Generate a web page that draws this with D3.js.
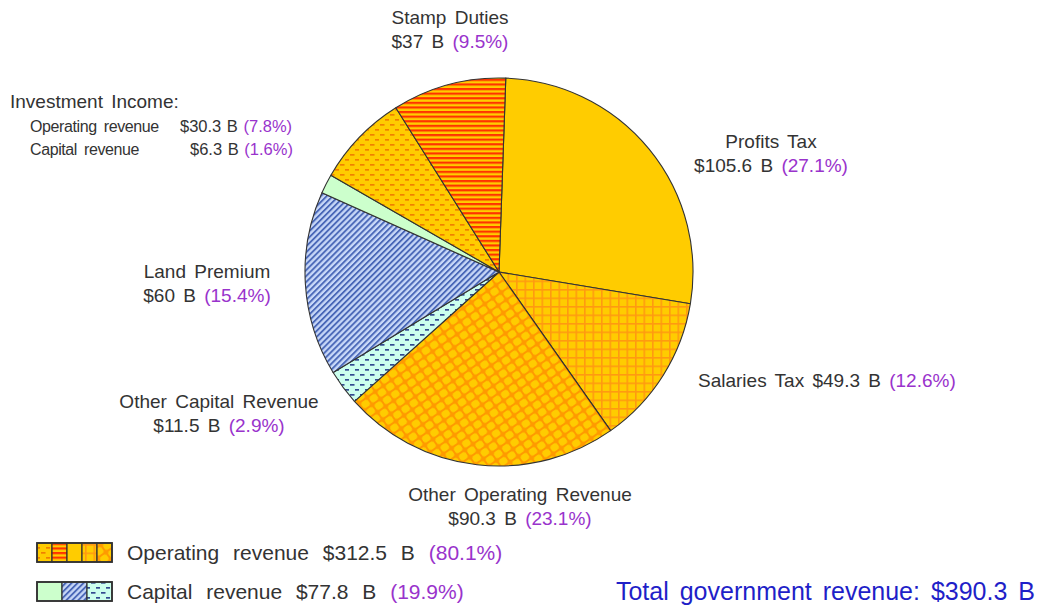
<!DOCTYPE html>
<html>
<head>
<meta charset="utf-8">
<script src="https://cdn.jsdelivr.net/npm/d3@7"></script>
<style>
  body { margin: 0; background: #fff; }
  svg { display: block; font-family: Arial, "Liberation Sans", sans-serif; }
  .lbl { fill: #333; font-size: 19px; word-spacing: 3px; }
  .pct { fill: #9933cc; }
</style>
</head>
<body>
<div id="chart"></div>
<script>
// data (clockwise from 12 o'clock)
const categories = ['Profits Tax', 'Salaries Tax', 'Other Operating Revenue', 'Other Capital Revenue',
  'Land Premium', 'Investment Income (capital)', 'Investment Income (operating)', 'Stamp Duties'];
const values = [105.6, 49.3, 90.3, 11.5, 60, 6.3, 30.3, 37];
const shares = [27.1, 12.6, 23.1, 2.9, 15.4, 1.6, 7.8, 9.5];
const groupTotals = [{ key: 'op', name: 'Operating revenue', value: 312.5, share: 80.1 },
  { key: 'cap', name: 'Capital revenue', value: 77.8, share: 19.9 }];
const totalRevenue = 390.3;

// fills per slice
const fills = ['solid-gold', 'grid', 'brick', 'dash-navy', 'diag', 'solid-green', 'dash-gold', 'stripe'];
const legendOrder = { op: ['dash-gold', 'stripe', 'solid-gold', 'grid', 'brick'], cap: ['solid-green', 'diag', 'dash-navy'] };

const W = 1043, H = 609;
const cx = 499, cy = 272, R = 194;

const svg = d3.select('#chart').append('svg').attr('width', W).attr('height', H);
const defs = svg.append('defs');

function pat(id, w, h, tr) {
  const p = defs.append('pattern').attr('id', id).attr('patternUnits', 'userSpaceOnUse')
    .attr('width', w).attr('height', h);
  if (tr) p.attr('patternTransform', tr);
  return p;
}
const gold = '#ffcc00';

let p = pat('solid-gold', 10, 10); p.append('rect').attr('width', 10).attr('height', 10).attr('fill', gold);
p = pat('solid-green', 10, 10); p.append('rect').attr('width', 10).attr('height', 10).attr('fill', '#ccffcc');

p = pat('stripe', 6, 4.6);
p.append('rect').attr('width', 6).attr('height', 4.6).attr('fill', gold);
p.append('rect').attr('width', 6).attr('height', 2.2).attr('fill', '#ff3300');

p = pat('grid', 8.5, 8.5);
p.append('rect').attr('width', 8.5).attr('height', 8.5).attr('fill', gold);
p.append('rect').attr('width', 1.6).attr('height', 8.5).attr('fill', '#ff9a10');
p.append('rect').attr('width', 8.5).attr('height', 1.6).attr('fill', '#ff9a10');

p = pat('brick', 10, 9, 'rotate(-35)');
p.append('rect').attr('width', 10).attr('height', 9).attr('fill', '#ff9a00');
p.append('rect').attr('x', 1).attr('y', 1).attr('width', 8).attr('height', 7).attr('rx', 2.5).attr('fill', gold);

p = pat('dash-gold', 10, 10);
p.append('rect').attr('width', 10).attr('height', 10).attr('fill', gold);
p.append('rect').attr('x', 1).attr('y', 2).attr('width', 4.5).attr('height', 1.7).attr('fill', '#f08000');
p.append('rect').attr('x', 6).attr('y', 7).attr('width', 4.5).attr('height', 1.7).attr('fill', '#f08000');

p = pat('dash-navy', 10, 10);
p.append('rect').attr('width', 10).attr('height', 10).attr('fill', '#ccffee');
p.append('rect').attr('x', 1).attr('y', 2).attr('width', 4.5).attr('height', 1.7).attr('fill', '#334a90');
p.append('rect').attr('x', 6).attr('y', 7).attr('width', 4.5).attr('height', 1.7).attr('fill', '#334a90');

p = pat('diag', 4.2, 4.2, 'rotate(-45)');
p.append('rect').attr('width', 4.2).attr('height', 4.2).attr('fill', '#c8d8f8');
p.append('rect').attr('width', 4.2).attr('height', 1.9).attr('fill', '#4a68b8');

// pie
const rows = categories.map((c, i) => ({ name: c, value: values[i], share: shares[i], fill: fills[i] }));
const pie = d3.pie().sort(null).value(d => d.value)
  .startAngle(2 * Math.PI / 180).endAngle(2 * Math.PI + 2 * Math.PI / 180);
const arc = d3.arc().innerRadius(0).outerRadius(R);

svg.append('g').attr('transform', `translate(${cx},${cy})`)
  .selectAll('path').data(pie(rows)).join('path')
  .attr('d', arc)
  .attr('fill', d => `url(#${d.data.fill})`)
  .attr('stroke', '#333').attr('stroke-width', 1.1).attr('stroke-linejoin', 'round');

// labels
const fmt = v => `$${v} B`;
const labelPos = {
  'Stamp Duties': { x: 450, y: 24, anchor: 'middle' },
  'Profits Tax': { x: 771, y: 148, anchor: 'middle' },
  'Other Operating Revenue': { x: 520, y: 501, anchor: 'middle' },
  'Other Capital Revenue': { x: 219, y: 408, anchor: 'middle' },
  'Land Premium': { x: 207, y: 278, anchor: 'middle' }
};
const gl = svg.append('g');
rows.forEach(d => {
  const lp = labelPos[d.name];
  if (!lp) return;
  gl.append('text').attr('class', 'lbl').attr('x', lp.x).attr('y', lp.y)
    .attr('text-anchor', lp.anchor).text(d.name);
  const t = gl.append('text').attr('class', 'lbl').attr('x', lp.x).attr('y', lp.y + 24)
    .attr('text-anchor', lp.anchor);
  t.append('tspan').text(fmt(d.value) + ' ');
  t.append('tspan').attr('class', 'pct').text(`(${d.share}%)`);
});

// salaries tax on a single line
const sal = rows[1];
const ts = gl.append('text').attr('class', 'lbl').attr('x', 698).attr('y', 387);
ts.append('tspan').text(`${sal.name} ${fmt(sal.value)} `);
ts.append('tspan').attr('class', 'pct').text(`(${sal.share}%)`);

// investment income block
gl.append('text').attr('class', 'lbl').attr('x', 10).attr('y', 108).style('font-size', '19px').text('Investment Income:');
const inv = [{ name: 'Operating revenue', d: rows[6], vx: 180 }, { name: 'Capital revenue', d: rows[5], vx: 190 }];
inv.forEach((r, i) => {
  const y = 132 + i * 23;
  gl.append('text').attr('class', 'lbl').style('font-size', '16px').style('letter-spacing', '-0.4px')
    .attr('x', 30).attr('y', y).text(r.name);
  const t = gl.append('text').attr('class', 'lbl').style('font-size', '16.5px').style('word-spacing', '1px')
    .attr('x', r.vx).attr('y', y);
  t.append('tspan').text(fmt(r.d.value) + ' ');
  t.append('tspan').attr('class', 'pct').text(`(${r.d.share}%)`);
});

// legend
const lg = svg.append('g');
groupTotals.forEach((g, i) => {
  const y0 = 543 + i * 39;
  const cells = legendOrder[g.key];
  const cw = 75 / cells.length;
  cells.forEach((f, j) => {
    lg.append('rect').attr('x', 37 + j * cw).attr('y', y0).attr('width', cw).attr('height', 19)
      .attr('fill', `url(#${f})`).attr('stroke', '#333').attr('stroke-width', 1.2);
  });
  lg.append('rect').attr('x', 37).attr('y', y0).attr('width', 75).attr('height', 19)
    .attr('fill', 'none').attr('stroke', '#333').attr('stroke-width', 1.8);
  const t = lg.append('text').attr('class', 'lbl').style('font-size', '21px').style('word-spacing', '8px')
    .attr('x', 127).attr('y', y0 + 17);
  t.append('tspan').text(`${g.name} ${fmt(g.value)} `);
  t.append('tspan').attr('class', 'pct').text(`(${g.share}%)`);
});

svg.append('text').attr('x', 1035).attr('y', 600).attr('text-anchor', 'end')
  .style('font-size', '25px').style('word-spacing', '4px').attr('fill', '#1f1fc8')
  .text(`Total government revenue: ${fmt(totalRevenue)}`);
</script>
</body>
</html>
